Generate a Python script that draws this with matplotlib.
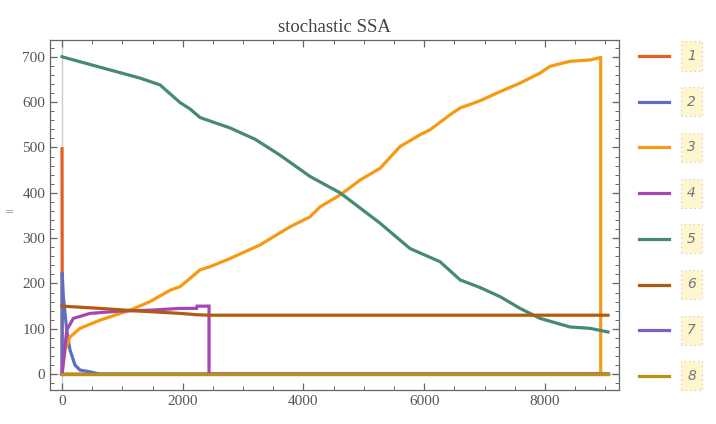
import matplotlib
matplotlib.use("Agg")
import matplotlib.pyplot as plt
from matplotlib.lines import Line2D
from matplotlib.patches import Rectangle
from matplotlib.ticker import MultipleLocator

# series data (time, count)
t1 = [0, 4, 9044]
v1 = [497, 0, 0]
t2 = [0, 3, 22, 78, 133, 215, 298, 464, 629, 9044]
v2 = [0, 224, 171, 97, 53, 20, 9, 5, 0, 0]
t3 = [0, 50, 133, 298, 629, 1126, 1458, 1789, 1955, 2120, 2286, 2452, 2783,
      3280, 3777, 4108, 4274, 4605, 4936, 5268, 5599, 5930, 6096, 6427, 6593,
      6924, 7255, 7587, 7918, 8084, 8415, 8746, 8912, 8923, 8923, 9044]
v3 = [0, 53, 82, 101, 119, 141, 160, 185, 193, 211, 230, 237, 255,
      285, 325, 347, 369, 395, 428, 454, 502, 528, 539, 572, 587,
      603, 623, 642, 664, 679, 690, 693, 698, 698, 0, 0]
t4 = [0, 20, 78, 187, 464, 961, 1458, 1955, 2230, 2236, 2435, 2435, 9044]
v4 = [0, 24, 97, 123, 134, 139, 141, 145, 145, 150, 150, 0, 0]
t5 = [0, 629, 1292, 1623, 1955, 2120, 2286, 2783, 3200, 3611, 4108, 4605,
      5268, 5764, 6261, 6593, 6924, 7255, 7587, 7918, 8415, 8746, 9044]
v5 = [700, 677, 653, 638, 599, 585, 566, 543, 518, 483, 436, 400,
      333, 277, 248, 208, 191, 171, 145, 123, 104, 101, 93]
t6 = [0, 629, 1292, 1955, 2236, 2435, 9044]
v6 = [150, 145, 139, 134, 131, 130, 130]
t7 = [0, 9044]
v7 = [0, 0]
t8 = [0, 9044]
v8 = [0, 0]

labels = ["1", "2", "3", "4", "5", "6", "7", "8"]
colors = ["#E35F1E", "#5E6FC1", "#F59A12", "#A546B4",
          "#458A72", "#B35A12", "#7E5CCB", "#B99210"]
series = [(t1, v1), (t2, v2), (t3, v3), (t4, v4),
          (t5, v5), (t6, v6), (t7, v7), (t8, v8)]

W, H = 716, 424
fig = plt.figure(figsize=(W / 100, H / 100), dpi=100)
ax = fig.add_axes([50 / W, 1 - 390 / H, (619 - 50) / W, (390 - 40) / H])

# thin axis lines through the origin
ax.axvline(0, color="#cccccc", lw=1, zorder=1)
ax.axhline(0, color="#cccccc", lw=1, zorder=1)

for (t, v), c in zip(series, colors):
    ax.plot(t, v, color=c, lw=2.3, solid_joinstyle="miter", zorder=2)

ax.set_xlim(-199, 9226)
ax.set_ylim(-35, 737)
ax.xaxis.set_major_locator(MultipleLocator(2000))
ax.xaxis.set_minor_locator(MultipleLocator(500))
ax.yaxis.set_major_locator(MultipleLocator(100))
ax.yaxis.set_minor_locator(MultipleLocator(20))

frame = "#666666"
for s in ax.spines.values():
    s.set_color(frame)
    s.set_linewidth(0.9)
ax.tick_params(which="both", direction="in", top=True, right=True,
               color=frame, labelcolor="#555555", labelsize=11)
ax.tick_params(which="major", length=5, width=0.9)
ax.tick_params(which="minor", length=3, width=0.7)
for lab in ax.get_xticklabels() + ax.get_yticklabels():
    lab.set_fontfamily("Liberation Serif")

ax.set_title("stochastic SSA", fontsize=13.5, color="#444444",
             family="Liberation Serif", pad=6)
fig.text(10 / W, 1 - 212 / H, "=", fontsize=8, color="#999999",
         ha="center", va="center")

# legend drawn by hand: colored line + small yellow label box
for i, (lab, c) in enumerate(zip(labels, colors)):
    y = 1 - (56 + i * 45.7) / H
    fig.add_artist(Line2D([639 / W, 669 / W], [y, y], color=c, lw=2.3))
    bw, bh = 21 / W, 29 / H
    fig.add_artist(Rectangle((681 / W, y - bh / 2), bw, bh,
                             facecolor="#FFF6D0", edgecolor="#c8c8c8",
                             lw=0.8, linestyle=(0, (1, 3))))
    fig.text(691.5 / W, y, lab, fontsize=10, style="italic", color="#777777",
             ha="center", va="center")

fig.savefig("out.png", dpi=100)
